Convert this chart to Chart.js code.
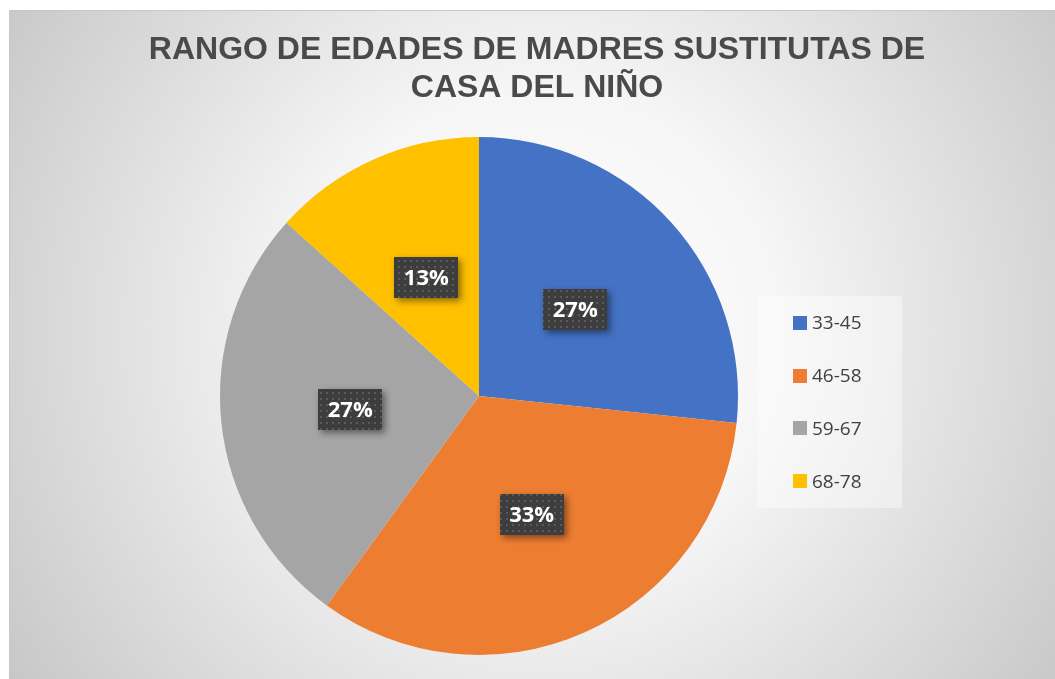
<!DOCTYPE html>
<html>
<head>
<meta charset="utf-8">
<script src="https://cdn.jsdelivr.net/npm/chart.js@4.4.1/dist/chart.umd.min.js"></script>
<style>
  html, body { margin: 0; padding: 0; background: #fff; }
  #wrap { width: 1055px; height: 679px; }
</style>
</head>
<body>
<div id="wrap"><canvas id="pie" width="1055" height="679"></canvas></div>
<script>
const titleLines = ["RANGO DE EDADES DE MADRES SUSTITUTAS DE", "CASA DEL NIÑO"];
const categories = ["33-45", "46-58", "59-67", "68-78"];
const values = [4, 5, 4, 2];
const colors = ["#4472C4", "#ED7D31", "#A5A5A5", "#FFC000"];

// fondo con degradado y marco
const backgroundPlugin = {
  id: "fondo",
  beforeDraw(chart) {
    const ctx = chart.ctx;
    ctx.save();
    ctx.fillStyle = "#ffffff";
    ctx.fillRect(0, 0, chart.width, chart.height);
    const g = ctx.createRadialGradient(540, 330, 0, 540, 330, 680);
    g.addColorStop(0, "#ffffff");
    g.addColorStop(0.35, "#f6f6f6");
    g.addColorStop(1, "#c2c2c2");
    ctx.fillStyle = g;
    ctx.fillRect(9, 10, chart.width - 9, chart.height - 10);
    ctx.strokeStyle = "#c8c8c8";
    ctx.lineWidth = 1;
    ctx.strokeRect(9.5, 10.5, chart.width, chart.height);

    // título
    ctx.fillStyle = "#4a4a4a";
    ctx.font = "bold 32px 'Liberation Sans', Arial, sans-serif";
    ctx.textAlign = "center";
    ctx.textBaseline = "middle";
    titleLines.forEach((t, i) => ctx.fillText(t, 537, 50 + i * 38));
    ctx.restore();
  }
};

// etiquetas de porcentaje
const labelPlugin = {
  id: "etiquetas",
  afterDatasetsDraw(chart) {
    const ctx = chart.ctx;
    const meta = chart.getDatasetMeta(0);
    const total = values.reduce((a, b) => a + b, 0);

    const pc = document.createElement("canvas");
    pc.width = 6; pc.height = 6;
    const p = pc.getContext("2d");
    p.fillStyle = "#3d3d3d";
    p.fillRect(0, 0, 6, 6);
    p.fillStyle = "#5a5a5a";
    p.fillRect(2, 2, 2, 2);
    const pattern = ctx.createPattern(pc, "repeat");

    meta.data.forEach((arc, i) => {
      const pos = arc.tooltipPosition();
      const txt = Math.round(values[i] / total * 100) + "%";
      const w = 64, h = 41;
      const x = Math.round(pos.x - w / 2), y = Math.round(pos.y - h / 2);
      ctx.save();
      ctx.shadowColor = "rgba(0,0,0,0.45)";
      ctx.shadowBlur = 7;
      ctx.shadowOffsetX = 3;
      ctx.shadowOffsetY = 3;
      ctx.fillStyle = pattern;
      ctx.fillRect(x, y, w, h);
      ctx.restore();
      ctx.save();
      ctx.fillStyle = "#ffffff";
      ctx.font = "bold 22px 'Open Sans', 'Liberation Sans', sans-serif";
      ctx.textAlign = "center";
      ctx.textBaseline = "middle";
      ctx.fillText(txt, pos.x, pos.y + 1);
      ctx.restore();
    });
  }
};

// leyenda a la derecha
const legendPlugin = {
  id: "leyenda",
  afterDraw(chart) {
    const ctx = chart.ctx;
    ctx.save();
    ctx.fillStyle = "rgba(255,255,255,0.4)";
    ctx.fillRect(757, 296, 145, 212);
    ctx.font = "19px 'Open Sans', 'Liberation Sans', sans-serif";
    ctx.textBaseline = "middle";
    ctx.textAlign = "left";
    categories.forEach((c, i) => {
      const y = 323 + i * 52.7;
      ctx.fillStyle = colors[i];
      ctx.fillRect(793, Math.round(y - 7), 14, 14);
      ctx.fillStyle = "#404040";
      ctx.fillText(c, 812, y + 1);
    });
    ctx.restore();
  }
};

new Chart(document.getElementById("pie"), {
  type: "pie",
  data: {
    labels: categories,
    datasets: [{
      data: values,
      backgroundColor: colors,
      borderWidth: 0
    }]
  },
  options: {
    responsive: false,
    animation: false,
    devicePixelRatio: 1,
    layout: {
      padding: { left: 220, right: 317, top: 137, bottom: 24 }
    },
    plugins: {
      legend: { display: false },
      title: { display: false },
      tooltip: { enabled: false }
    }
  },
  plugins: [backgroundPlugin, labelPlugin, legendPlugin]
});
</script>
</body>
</html>
